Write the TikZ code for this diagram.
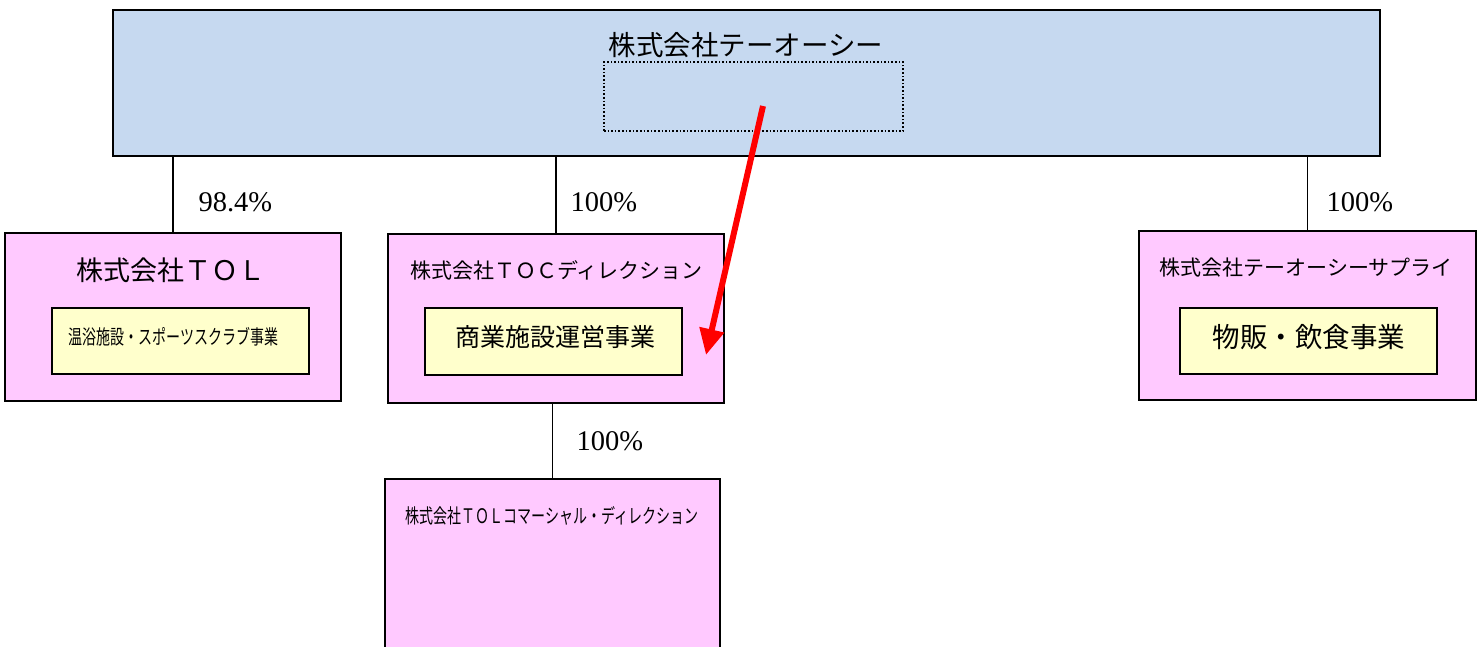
\documentclass[tikz,border=0pt]{standalone}
\usepackage{tikz}
\usepackage{graphicx, xcolor}
\usepackage{fontspec}
\usetikzlibrary{arrows.meta}
\setmainfont{Liberation Serif}
\newfontfamily\jp{Noto Sans CJK JP}
\definecolor{topblue}{HTML}{C6D9F0}
\definecolor{subpink}{HTML}{FFC9FF}
\definecolor{bizyellow}{HTML}{FFFFCC}
\tikzset{
  holding/.style={draw, fill=topblue, line width=1.6pt, inner sep=0pt},
  subsidiary/.style={draw, fill=subpink, line width=1.6pt, inner sep=0pt},
  business/.style={draw, fill=bizyellow, line width=1.6pt, inner sep=0pt},
  link/.style={line width=1.8pt},
  share/.style={font=\fontsize{28.5}{32}\selectfont, anchor=west}
}
\begin{document}
\begin{tikzpicture}[x=1pt,y=-1pt]
	\useasboundingbox (0,0) rectangle (1484,647);
		% parent company
	\node[holding, minimum width=1267pt, minimum height=146pt] (top) at (746.5,83) {};
	\node[font=\jp\fontsize{27.5}{32}\selectfont] (topTitle) at (746,45) {株式会社テーオーシー};
	\node[draw, dotted, line width=1.6pt, minimum width=299pt, minimum height=69pt] (topInner) at (753.5,96.5) {};

		% subsidiaries
	\node[subsidiary, minimum width=336pt, minimum height=168pt] (tol) at (173,317) {};
	\node[font=\jp\fontsize{27}{32}\selectfont] (tolTitle) at (171,270) {株式会社ＴＯＬ};
	\node[business, minimum width=257pt, minimum height=66pt] (tolBiz) at (180.5,341) {};
	\node[font=\jp\fontsize{20}{24}\selectfont] (tolBizText) at (173.5,337) {\scalebox{0.7}[1]{温浴施設・スポーツスクラブ事業}};

	\node[subsidiary, minimum width=336pt, minimum height=169pt] (toc) at (556,318.5) {};
	\node[font=\jp\fontsize{21}{26}\selectfont] (tocTitle) at (556.5,270) {株式会社ＴＯＣディレクション};
	\node[business, minimum width=257pt, minimum height=67pt] (tocBiz) at (553.5,341.5) {};
	\node[font=\jp\fontsize{25}{30}\selectfont] (tocBizText) at (555,337) {商業施設運営事業};

	\node[subsidiary, minimum width=337pt, minimum height=169pt] (supply) at (1307.5,315.5) {};
	\node[font=\jp\fontsize{21}{26}\selectfont] (supplyTitle) at (1306,268) {株式会社テーオーシーサプライ};
	\node[business, minimum width=257pt, minimum height=66pt] (supplyBiz) at (1308.5,341) {};
	\node[font=\jp\fontsize{27.5}{32}\selectfont] (supplyBizText) at (1309,337) {物販・飲食事業};

	\node[subsidiary, minimum width=335pt, minimum height=200pt] (tolc) at (552.5,579) {};
	\node[font=\jp\fontsize{20}{24}\selectfont] (tolcTitle) at (552,516) {\scalebox{0.7}[1]{株式会社ＴＯＬコマーシャル・ディレクション}};

		% shareholding lines
	\draw[link] (tol.north) -- (tol.north |- top.south);
	\draw[link] (toc.north) -- (toc.north |- top.south);
	\draw[link] (supply.north) -- (supply.north |- top.south);
	\draw[link] (tolc.north) -- (tolc.north |- toc.south);
	\node[share] (tolShare) at (195,202) {98.4\%};
	\node[share] (tocShare) at (567,202) {100\%};
	\node[share] (supplyShare) at (1323,202) {100\%};
	\node[share] (tolcShare) at (573,441) {100\%};

		% red arrow
	\coordinate (arrowTail) at (763,106);
	\coordinate (arrowTip) at (706,355);
	\draw[red, line width=6pt, -{Triangle[length=26pt,width=24pt]}] (arrowTail) -- (arrowTip);
\end{tikzpicture}
\end{document}
